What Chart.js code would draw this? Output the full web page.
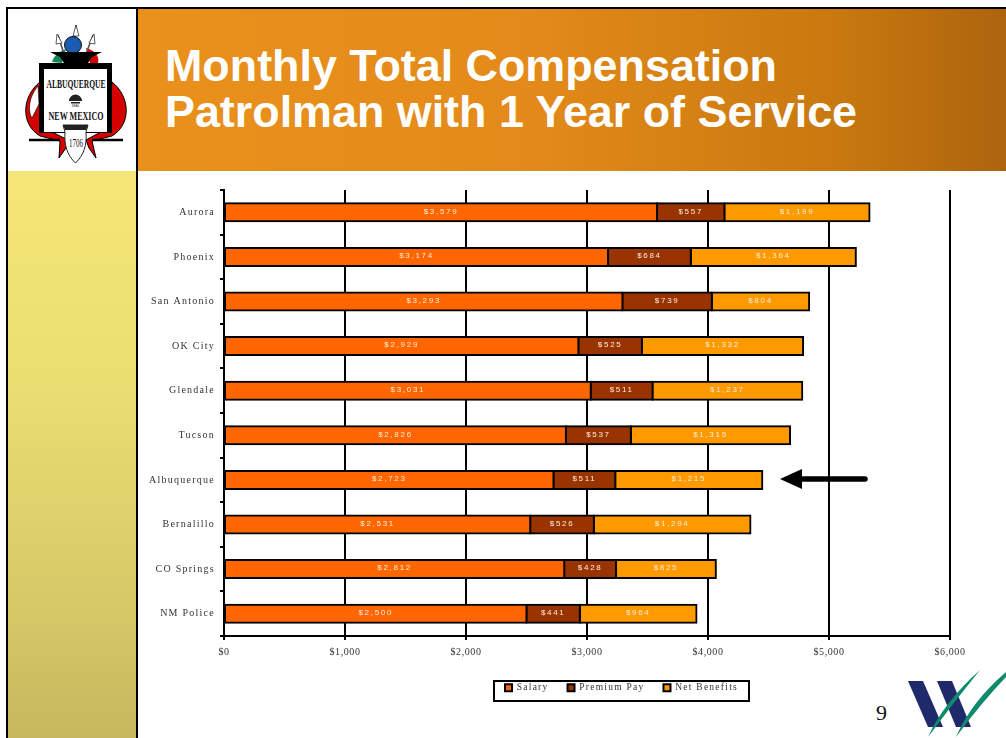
<!DOCTYPE html>
<html><head><meta charset="utf-8">
<script src="https://cdn.jsdelivr.net/npm/chart.js@4/dist/chart.umd.min.js"></script>
<style>
html,body{margin:0;padding:0;background:#fff;width:1006px;height:738px;overflow:hidden}
.abs{position:absolute}
#frameL{left:6px;top:7px;width:2px;height:731px;background:#000}
#frameT{left:6px;top:7px;width:1000px;height:2px;background:#000}
#frameM{left:136px;top:7px;width:2px;height:731px;background:#000}
#side{left:8px;top:171px;width:128px;height:567px;background:linear-gradient(180deg,#f4e777 0%,#ecdf72 35%,#d8c968 75%,#c7b75e 100%)}
#head{left:138px;top:9px;width:868px;height:162px;background:linear-gradient(90deg,#ea901c 0%,#e38a1a 45%,#c9790f 80%,#ad640e 100%)}
#title{left:165px;top:43px;color:#fff;font:bold 44.85px/46px "Liberation Sans",Arial,sans-serif;white-space:nowrap}
#page{left:876px;top:700px;font:22px "Liberation Serif",serif;color:#111}
canvas{position:absolute;left:0;top:0}
</style></head><body>
<div class="abs" id="side"></div>
<div class="abs" id="head"></div>
<div class="abs" id="frameL"></div><div class="abs" id="frameT"></div><div class="abs" id="frameM"></div>
<div class="abs" id="title">Monthly Total Compensation<br>Patrolman with 1 Year of Service</div>
<svg class="abs" style="left:0;top:0" width="140" height="171" viewBox="0 0 140 171">
 <path d="M40 82C22 96 20 124 40 136L60 141L59 158L66 148L68 140L44 128Z" fill="#d40000" stroke="#000"/>
 <path d="M112 82C130 96 132 124 112 136L92 141L96 158L89 148L86 140L108 128Z" fill="#d40000" stroke="#000"/>
 <path d="M38 86C28 98 28 112 32 118L39 104Z" fill="#fff" stroke="#000" stroke-width=".6"/>
 <path d="M52 62C54 56 58 52 66 49L62 63Z" fill="#12885a"/>
 <path d="M86 48C94 50 100 56 98 63L90 63Z" fill="#d40000"/>
 <path d="M76 25L74 54M58 35L64 54M93 35L86 54" stroke="#555" stroke-width="1.6" fill="none"/>
 <path d="M76 25L73 36L79 36ZM57 34L56 44L62 43ZM94 34L89 43L95 44Z" fill="#fff" stroke="#333" stroke-width=".8"/>
 <circle cx="73" cy="45" r="8.5" fill="#1a5cb0" stroke="#111"/>
 <path d="M50 52H102L92 57L88 63H64L60 57Z" fill="#000"/>
 <rect x="39" y="63" width="73" height="70" fill="#000"/>
 <rect x="44" y="69" width="63" height="63" fill="#fff"/>
 <text x="76" y="88" text-anchor="middle" font-family="Liberation Serif" font-weight="bold" font-size="12" textLength="59" lengthAdjust="spacingAndGlyphs" fill="#111">ALBUQUERQUE</text>
 <path d="M69 101a6 6 0 0 1 13 0ZM71 102h9v1.5h-9Z" fill="#222"/>
 <text x="75.5" y="107" text-anchor="middle" font-family="Liberation Sans" font-size="3" fill="#222">SEAL</text>
 <text x="76" y="120" text-anchor="middle" font-family="Liberation Serif" font-weight="bold" font-size="12" textLength="55" lengthAdjust="spacingAndGlyphs" fill="#111">NEW MEXICO</text>
 <path d="M29 140H60M92 140H123" stroke="#000" stroke-width="2.4"/>
 <path d="M63 125H88L86 132C87 145 84 155 75.5 163C67 155 64 145 65 132Z" fill="#fff" stroke="#222"/>
 <path d="M63 125H88L86 130H65Z" fill="#222"/>
 <text x="76" y="147" text-anchor="middle" font-family="Liberation Serif" font-size="12" textLength="14" lengthAdjust="spacingAndGlyphs" fill="#111">1706</text>
</svg>
<svg class="abs" style="left:890px;top:660px" width="116" height="78" viewBox="890 660 116 78">
 <path d="M908 681H923L943 727H928ZM937 681H952L971 727H956Z" fill="#1f2a6b"/>
 <path d="M980 670Q944 702 928 737Q954 702 980 670Z" fill="#0f8a6e"/>
 <path d="M1006 672Q971 702 956 737Q982 702 1006 677Z" fill="#0f8a6e"/>
</svg>
<div class="abs" id="page">9</div>
<canvas id="c" width="1006" height="738"></canvas>
<script>
const categories=["Aurora","Phoenix","San Antonio","OK City","Glendale","Tucson","Albuquerque","Bernalillo","CO Springs","NM Police"];
const salary=[3579,3174,3293,2929,3031,2826,2723,2531,2812,2500];
const premiumPay=[557,684,739,525,511,537,511,526,428,441];
const netBenefits=[1199,1364,804,1332,1237,1315,1215,1294,825,964];
const seriesNames=["Salary","Premium Pay","Net Benefits"];
const seriesColors=["#ff6600","#993300","#ff9900"];
const markedCategory="Albuquerque";
const arrowFrom=5314, arrowTo=4595;
const money=v=>"$"+Number(v).toLocaleString("en-US");
const SERIF='"Liberation Serif",serif';

const extras={
 id:"extras",
 beforeLayout(c){c.ctx.letterSpacing="1.25px";},
 afterLayout(c){const l=c.legend;const p=l.options.labels.padding;
   l.left=505-p;l.right=1000;l.top=681-p+2;},
 beforeDraw(c){const x=c.ctx;x.letterSpacing="1.25px";
   x.save();x.strokeStyle="#000";x.lineWidth=2;x.fillStyle="#fff";
   x.fillRect(494,681,255,20);x.strokeRect(494,681,255,20);x.restore();},
 afterDatasetsDraw(c){const x=c.ctx;x.save();
   x.font='8px "Liberation Sans",sans-serif';x.letterSpacing="1.7px";x.fillStyle="#ffeedd";
   x.textAlign="center";x.textBaseline="middle";
   c.data.datasets.forEach((d,i)=>{c.getDatasetMeta(i).data.forEach((b,j)=>{
     x.fillText(money(d.data[j]),(b.x+b.base)/2,b.y-1);});});
   x.restore();
   const X=c.scales.x,Y=c.scales.y,y=Y.getPixelForValue(categories.indexOf(markedCategory));
   const a=X.getPixelForValue(arrowFrom),b=X.getPixelForValue(arrowTo);
   x.save();x.fillStyle="#000";x.strokeStyle="#000";x.lineWidth=5.5;x.lineCap="round";
   x.beginPath();x.moveTo(a-2,y-1);x.lineTo(b+20,y-1);x.stroke();
   x.beginPath();x.moveTo(b,y-1);x.lineTo(b+22,y-11);x.lineTo(b+22,y+9);x.closePath();x.fill();
   x.restore();
   x.letterSpacing="0.6px";
 }
};

new Chart(document.getElementById("c"),{
 type:"bar",
 data:{labels:categories,datasets:[salary,premiumPay,netBenefits].map((d,i)=>({
   label:seriesNames[i],data:d,backgroundColor:seriesColors[i],borderColor:"#000",
   borderWidth:2,borderSkipped:false,inflateAmount:1,barThickness:18,stack:"a"}))},
 plugins:[extras],
 options:{
  indexAxis:"y",responsive:false,animation:false,
  layout:{padding:{left:0,right:56,top:190,bottom:0}},
  plugins:{tooltip:{enabled:false},title:{display:false},
   legend:{position:"bottom",align:"start",
    labels:{boxWidth:7,boxHeight:7,padding:19,font:{family:SERIF,size:9.5},color:"#333"}}},
  scales:{
   x:{stacked:true,min:0,max:6000,position:"bottom",
    afterFit(s){s.height=102-s.chart.legend.height;},
    grid:{color:"#000",lineWidth:2,tickLength:4,tickColor:"#000"},
    border:{color:"#000",width:2},
    ticks:{z:1,stepSize:1000,maxRotation:0,autoSkip:false,padding:6,color:"#333",align:"center",
      font:{family:SERIF,size:10},callback:v=>money(v)}},
   y:{stacked:true,
    afterFit(s){s.width=224;},
    grid:{drawOnChartArea:false,offset:true,tickLength:4,tickColor:"#000",lineWidth:2},
    border:{color:"#000",width:2},
    ticks:{autoSkip:false,padding:5,color:"#333",font:{family:SERIF,size:10}}}
  }
 }
});
</script>
</body></html>
